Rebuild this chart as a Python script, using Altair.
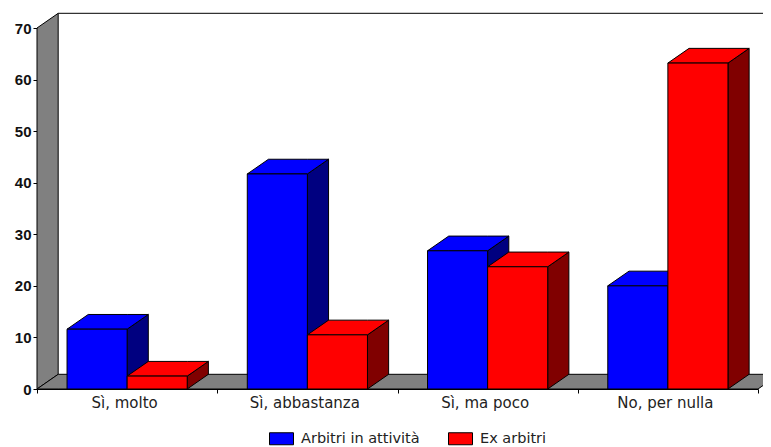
import altair as alt
import pandas as pd

categories = ["Sì, molto", "Sì, abbastanza", "Sì, ma poco", "No, per nulla"]
series_names = ["Arbitri in attività", "Ex arbitri"]
attivi = [11.6, 41.7, 26.8, 20.0]
ex = [2.5, 10.5, 23.7, 63.2]
front_colors = ["#0000ff", "#ff0000"]
side_colors = ["#000080", "#800000"]
y_ticks = [0, 10, 20, 30, 40, 50, 60, 70]

DX, DY = 0.1175, 2.85   # oblique depth, in axis units
BW = 1 / 3
W, H = 721, 361
FONT = "Liberation Sans"
WIDE = "DejaVu Sans"

xs = alt.Scale(domain=[0, 4], range=[0, W], nice=False, zero=False)
ys = alt.Scale(domain=[0, 70], nice=False, zero=False)
X = alt.X("x:Q", scale=xs, title=None)
Y = alt.Y("y:Q", scale=ys, title=None)

def faces(vals, off):
    front, top, side = [], [], []
    for i, v in enumerate(vals):
        a, b = i + 1/6 + off * BW, i + 1/6 + (off + 1) * BW
        front.append(dict(x=a, x2=b, y=v, y2=0, name=series_names[off]))
        top += [dict(k=i, x=a, y=v, y2=v), dict(k=i, x=a + DX, y=v + DY, y2=v),
                dict(k=i, x=b, y=v + DY, y2=v), dict(k=i, x=b + DX, y=v + DY, y2=v + DY)]
        side += [dict(k=i, x=b, y=v, y2=0), dict(k=i, x=b + DX, y=v + DY, y2=DY)]
    return pd.DataFrame(front), pd.DataFrame(top), pd.DataFrame(side)

area_kw = dict(stroke="#000000", strokeWidth=1, interpolate="linear")

wall = alt.Chart(pd.DataFrame([dict(x=0, y=70, y2=0), dict(x=DX, y=70 + DY, y2=DY)])).mark_area(
    color="#808080", **area_kw).encode(x=X, y=Y, y2="y2:Q")
floor = alt.Chart(pd.DataFrame([dict(x=0, y=0, y2=0), dict(x=DX, y=DY, y2=0),
                                dict(x=4, y=DY, y2=0), dict(x=4 + DX, y=DY, y2=DY)])).mark_area(
    color="#808080", **area_kw).encode(x=X, y=Y, y2="y2:Q")
back_top = alt.Chart(pd.DataFrame([dict(x=DX, x2=4 + DX, y=70 + DY)])).mark_rule(
    color="#000000", strokeWidth=1).encode(x=X, x2="x2:Q", y=Y)

label_expr = ("datum.value % 1 == 0 ? '' : "
              "['" + "','".join(categories) + "'][floor(datum.value)]")
axes = alt.Chart(pd.DataFrame([dict(x=0, y=0)])).mark_point(opacity=0).encode(
    x=alt.X("x:Q", scale=xs, title=None, axis=alt.Axis(
        values=[0, .5, 1, 1.5, 2, 2.5, 3, 3.5, 4], labelExpr=label_expr, grid=False,
        domainColor="#000000", tickColor="#000000", tickSize=4, labelOverlap=False,
        tickOpacity={"condition": {"test": "datum.value % 1 == 0", "value": 1}, "value": 0},
        labelFont=WIDE, labelFontSize=15, labelColor="#222222", labelPadding=2, labelAngle=0,
        labelOffset=-3)),
    y=alt.Y("y:Q", scale=ys, title=None, axis=alt.Axis(
        values=y_ticks, grid=False, domainColor="#000000", tickColor="#000000", tickSize=4,
        labelFont=FONT, labelFontSize=15, labelFontWeight="bold", labelColor="#111111", labelPadding=2)),
)

layers = [wall, floor, back_top, axes]
for off, vals in enumerate([attivi, ex]):
    f, t, s = faces(vals, off)
    layers.append(alt.Chart(s).mark_area(color=side_colors[off], **area_kw).encode(
        x=X, y=Y, y2="y2:Q", detail="k:N"))
    layers.append(alt.Chart(t).mark_area(color=front_colors[off], **area_kw).encode(
        x=X, y=Y, y2="y2:Q", detail="k:N"))
    layers.append(alt.Chart(f).mark_rect(stroke="#000000", strokeWidth=1).encode(
        x=X, x2="x2:Q", y=Y, y2="y2:Q",
        fill=alt.Fill("name:N", scale=alt.Scale(domain=series_names, range=front_colors),
                      legend=alt.Legend(
                          orient="none", legendX=232, legendY=398, direction="horizontal",
                          title=None, symbolType="M-1,-0.5H1V0.5H-1Z", symbolSize=576,
                          symbolStrokeColor="#000000", symbolStrokeWidth=1, symbolOpacity=1,
                          labelFont=WIDE, labelFontSize=14.5, labelColor="#222222",
                          labelOffset=7, columnPadding=26))))

chart = alt.layer(*layers).properties(
    width=W, height=H,
    autosize=alt.AutoSizeParams(type="none"),
    padding={"left": 29, "top": 20, "right": 5, "bottom": 58},
    background="#ffffff",
).configure_view(stroke=None)

chart.save("out.html", embed_options={"renderer": "svg", "actions": False})
